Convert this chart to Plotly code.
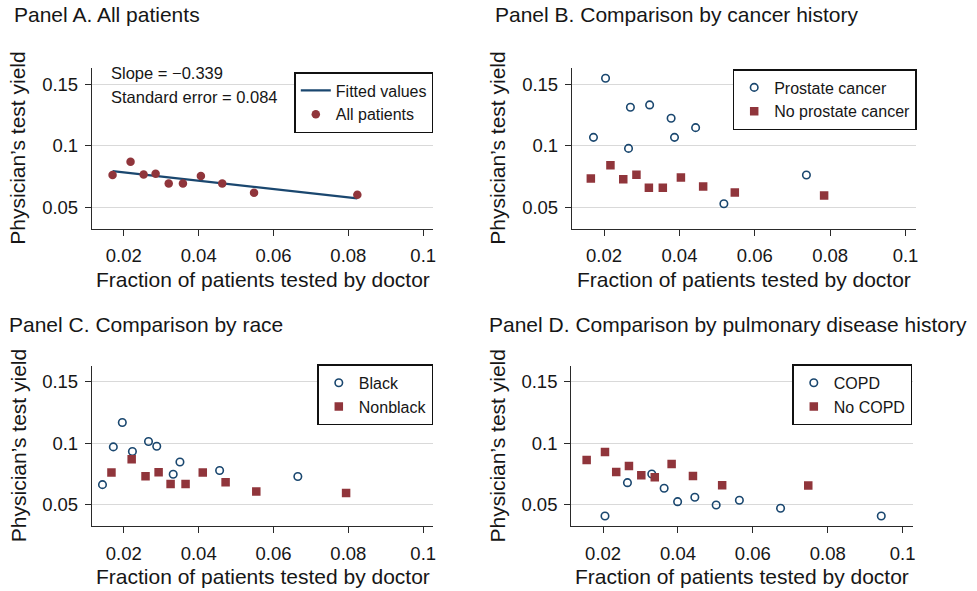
import plotly.graph_objects as go

W, H = 977, 591

# ---------------- data ----------------
# Panel A: all patients
a_x = [0.0170, 0.0218, 0.0253, 0.0285, 0.0320, 0.0358, 0.0406, 0.0463, 0.0548, 0.0824]
a_y = [0.0761, 0.0870, 0.0766, 0.0772, 0.0693, 0.0693, 0.0753, 0.0693, 0.0617, 0.0601]
fit_x = [0.0170, 0.0824]
fit_y = [0.0793, 0.0571]
slope_text = "Slope = \u22120.339"
se_text = "Standard error = 0.084"

# Panel B: cancer history
b_pc_x = [0.0172, 0.0204, 0.0265, 0.0270, 0.0321, 0.0378, 0.0387, 0.0443, 0.0518, 0.0737]
b_pc_y = [0.1068, 0.1549, 0.0978, 0.1313, 0.1332, 0.1223, 0.1068, 0.1147, 0.0527, 0.0761]
b_npc_x = [0.0165, 0.0217, 0.0251, 0.0286, 0.0319, 0.0356, 0.0404, 0.0463, 0.0547, 0.0784]
b_npc_y = [0.0734, 0.0840, 0.0726, 0.0764, 0.0658, 0.0658, 0.0742, 0.0668, 0.0620, 0.0595]

# Panel C: race
c_bl_x = [0.0143, 0.0172, 0.0196, 0.0223, 0.0266, 0.0288, 0.0332, 0.0350, 0.0456, 0.0665]
c_bl_y = [0.0662, 0.0970, 0.1169, 0.0932, 0.1014, 0.0975, 0.0747, 0.0847, 0.0777, 0.0728]
c_nb_x = [0.0167, 0.0221, 0.0258, 0.0293, 0.0325, 0.0365, 0.0411, 0.0472, 0.0554, 0.0794]
c_nb_y = [0.0760, 0.0869, 0.0730, 0.0763, 0.0668, 0.0668, 0.0760, 0.0681, 0.0605, 0.0594]

# Panel D: pulmonary disease history
d_copd_x = [0.0205, 0.0265, 0.0330, 0.0363, 0.0399, 0.0445, 0.0502, 0.0564, 0.0674, 0.0943]
d_copd_y = [0.0406, 0.0678, 0.0749, 0.0632, 0.0523, 0.0559, 0.0496, 0.0534, 0.0469, 0.0406]
d_nc_x = [0.0156, 0.0205, 0.0235, 0.0269, 0.0302, 0.0338, 0.0383, 0.0440, 0.0518, 0.0748]
d_nc_y = [0.0864, 0.0929, 0.0766, 0.0815, 0.0738, 0.0722, 0.0831, 0.0733, 0.0657, 0.0654]

x_tickvals = [0.02, 0.04, 0.06, 0.08, 0.1]
x_ticktext = ["0.02", "0.04", "0.06", "0.08", "0.1"]
y_tickvals = [0.05, 0.1, 0.15]
y_ticktext = ["0.05", "0.1", "0.15"]

panel_titles = ["Panel A. All patients",
                "Panel B. Comparison by cancer history",
                "Panel C. Comparison by race",
                "Panel D. Comparison by pulmonary disease history"]
x_title = "Fraction of patients tested by doctor"
y_title = "Physician\u2019s test yield"

# ---------------- styling ----------------
NAVY = "#1A476F"
MAROON = "#90353B"
FONT = "Liberation Sans, Arial, sans-serif"
AXC = "#2a2a2a"
TXT = "#161616"

# pixel boxes of plot areas: (left, right, top, bottom)
boxes = [(92, 433.3, 68.3, 229.0),
         (572, 915.7, 68.3, 229.0),
         (92, 433.3, 366.0, 526.3),
         (571.3, 912.7, 366.0, 526.3)]
title_pos = [(12, 15), (493, 15), (7, 324), (487, 324)]
legend_pos = [(433.3, 72), (916.7, 69), (433.3, 364.3), (912.3, 364.3)]
xrange_ = [0.0115, 0.1027]
yrange_ = [0.0322, 0.163]


def px(x):
    return x / W


def py(y):
    return 1 - y / H


fig = go.Figure()

# Panel A
fig.add_trace(go.Scatter(x=fit_x, y=fit_y, mode="lines", name="Fitted values",
                         line=dict(color=NAVY, width=2.4), xaxis="x", yaxis="y",
                         legend="legend"))
fig.add_trace(go.Scatter(x=a_x, y=a_y, mode="markers", name="All patients",
                         marker=dict(color=MAROON, size=8.5, symbol="circle"),
                         xaxis="x", yaxis="y", legend="legend"))


def open_circ(x, y, name, ax, leg):
    return go.Scatter(x=x, y=y, mode="markers", name=name,
                      marker=dict(symbol="circle-open", size=7.5, color=NAVY,
                                  line=dict(width=1.6, color=NAVY)),
                      xaxis="x" + ax, yaxis="y" + ax, legend=leg)


def square(x, y, name, ax, leg):
    return go.Scatter(x=x, y=y, mode="markers", name=name,
                      marker=dict(symbol="square", size=8.5, color=MAROON),
                      xaxis="x" + ax, yaxis="y" + ax, legend=leg)


fig.add_trace(open_circ(b_pc_x, b_pc_y, "Prostate cancer", "2", "legend2"))
fig.add_trace(square(b_npc_x, b_npc_y, "No prostate cancer", "2", "legend2"))
fig.add_trace(open_circ(c_bl_x, c_bl_y, "Black", "3", "legend3"))
fig.add_trace(square(c_nb_x, c_nb_y, "Nonblack", "3", "legend3"))
fig.add_trace(open_circ(d_copd_x, d_copd_y, "COPD", "4", "legend4"))
fig.add_trace(square(d_nc_x, d_nc_y, "No COPD", "4", "legend4"))

layout = dict(width=W, height=H, margin=dict(l=0, r=0, t=0, b=0),
              template="none", paper_bgcolor="white", plot_bgcolor="white",
              font=dict(family=FONT, color=TXT), showlegend=True)

annotations = []
for i, (l, r, t, b) in enumerate(boxes):
    sfx = "" if i == 0 else str(i + 1)
    layout["xaxis" + sfx] = dict(
        domain=[px(l), px(r)], range=xrange_, anchor="y" + sfx,
        showline=True, linecolor=AXC, linewidth=1.3, mirror=False,
        ticks="outside", ticklen=6, tickwidth=1.3, tickcolor=AXC,
        tickvals=x_tickvals, ticktext=x_ticktext, showgrid=False, zeroline=False,
        tickfont=dict(size=18.5, color=TXT, family=FONT), ticklabelstandoff=4)
    layout["yaxis" + sfx] = dict(
        domain=[py(b), py(t)], range=yrange_, anchor="x" + sfx,
        showline=True, linecolor=AXC, linewidth=1.3, mirror=False,
        ticks="outside", ticklen=6, tickwidth=1.3, tickcolor=AXC,
        tickvals=y_tickvals, ticktext=y_ticktext, showgrid=True,
        gridcolor="#D9D9D9", gridwidth=1.2, zeroline=False,
        tickfont=dict(size=18.5, color=TXT, family=FONT), ticklabelstandoff=3)
    lg = "legend" if i == 0 else "legend" + str(i + 1)
    lx, ly = legend_pos[i]
    layout[lg] = dict(x=px(lx), y=py(ly), xanchor="right", yanchor="top",
                      bordercolor="#111111", borderwidth=1.5, bgcolor="white",
                      font=dict(size=16, color=TXT, family=FONT),
                      tracegroupgap=0, itemwidth=30)
    tx, ty = title_pos[i]
    annotations.append(dict(text=panel_titles[i], x=px(tx), y=py(ty), xref="paper",
                            yref="paper", xanchor="left", yanchor="middle",
                            showarrow=False, font=dict(size=21, color=TXT, family=FONT)))
    annotations.append(dict(text=x_title, x=px((l + r) / 2), y=py(b + 50),
                            xref="paper", yref="paper", xanchor="center",
                            yanchor="middle", showarrow=False,
                            font=dict(size=21, color=TXT, family=FONT)))
    annotations.append(dict(text=y_title, x=px(l - 74), y=py((t + b) / 2),
                            xref="paper", yref="paper", xanchor="center",
                            yanchor="middle", textangle=-90, showarrow=False,
                            font=dict(size=21, color=TXT, family=FONT)))

annotations.append(dict(text=slope_text, x=px(109), y=py(73.5), xref="paper", yref="paper",
                        xanchor="left", yanchor="middle", showarrow=False,
                        font=dict(size=16.5, color=TXT, family=FONT)))
annotations.append(dict(text=se_text, x=px(109), y=py(96.5), xref="paper", yref="paper",
                        xanchor="left", yanchor="middle", showarrow=False,
                        font=dict(size=16.5, color=TXT, family=FONT)))
layout["annotations"] = annotations

fig.update_layout(**layout)
fig.write_html("out.html")
